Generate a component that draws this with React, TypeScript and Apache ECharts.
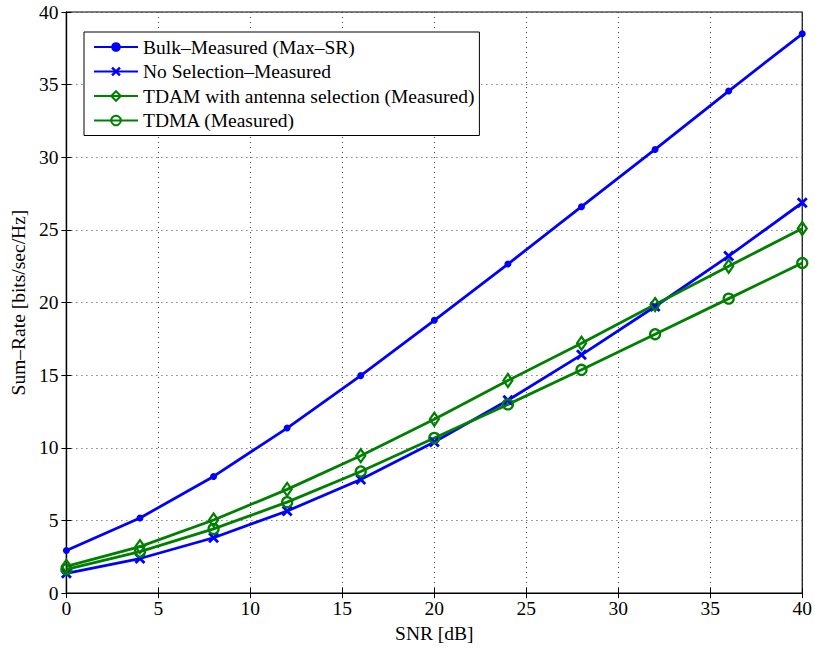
import React, { useEffect, useRef } from "react";
import * as echarts from "echarts";

const snr = [0, 4, 8, 12, 16, 20, 24, 28, 32, 36, 40];
const bulkMeasured = [2.93, 5.17, 8.03, 11.36, 14.97, 18.78, 22.65, 26.6, 30.54, 34.56, 38.5];
const noSelection = [1.36, 2.38, 3.81, 5.65, 7.82, 10.4, 13.27, 16.4, 19.73, 23.2, 26.87];
const tdamSelection = [1.84, 3.2, 5.03, 7.14, 9.46, 11.97, 14.63, 17.2, 19.86, 22.5, 25.1];
const tdmaMeasured = [1.63, 2.86, 4.42, 6.26, 8.37, 10.68, 12.99, 15.37, 17.82, 20.27, 22.72];

const seriesNames = [
  "Bulk\u2013Measured (Max\u2013SR)",
  "No Selection\u2013Measured",
  "TDAM with antenna selection (Measured)",
  "TDMA (Measured)",
];

const BLUE = "#0000ff";
const GREEN = "#008000";
const FONT = "Liberation Serif";
const FS = 19.5;
// Bold "x" marker drawn as a filled outline
const CROSS = "path://M0,1.8L1.8,0L5,3.2L8.2,0L10,1.8L6.8,5L10,8.2L8.2,10L5,6.8L1.8,10L0,8.2L3.2,5Z";

const toPairs = (ys: number[]) => snr.map((x, i) => [x, ys[i]]);

export default function App() {
  const ref = useRef<HTMLDivElement>(null);

  useEffect(() => {
    if (!ref.current) return;
    const chart = echarts.init(ref.current, null, { renderer: "svg" });

    const axisCommon = {
      axisLine: { show: true, lineStyle: { color: "#000", width: 1.2 } },
      axisTick: { show: true, inside: true, length: 5, lineStyle: { color: "#000" } },
    };

    const line = (name: string, data: number[], color: string, symbol: string, size: any, hollow: boolean) => ({
      name,
      type: "line",
      data: toPairs(data),
      symbol,
      symbolSize: size,
      showAllSymbol: true,
      color,
      lineStyle: { color, width: 2.8 },
      itemStyle: hollow
        ? { color: "rgba(255,255,255,0)", borderColor: color, borderWidth: 2.3 }
        : { color, borderColor: color, borderWidth: 0 },
      emphasis: { disabled: true },
      z: 3,
    });

    chart.setOption({
      animation: false,
      backgroundColor: "#fff",
      textStyle: { fontFamily: FONT },
      grid: { left: 62, right: 10, top: 12, bottom: 48, show: true, borderColor: "#000", borderWidth: 1.2 },
      legend: {
        orient: "vertical",
        left: 84,
        top: 32,
        padding: [5, 5, 5, 9],
        itemGap: 4.5,
        itemWidth: 44,
        itemHeight: 12,
        backgroundColor: "#fff",
        borderColor: "#000",
        borderWidth: 1,
        textStyle: { fontFamily: FONT, fontSize: FS, color: "#000" },
        data: seriesNames,
      },
      xAxis: [
        {
          type: "value",
          min: 0,
          max: 40,
          interval: 5,
          name: "SNR [dB]",
          nameLocation: "middle",
          nameGap: 25,
          nameTextStyle: { fontFamily: FONT, fontSize: FS, color: "#000" },
          axisLabel: { fontFamily: FONT, fontSize: FS, color: "#000", margin: 5 },
          splitLine: { show: true, lineStyle: { color: "#444", type: [1, 4], width: 1 } },
          ...axisCommon,
        },
        {
          type: "value",
          position: "top",
          min: 0,
          max: 40,
          interval: 5,
          axisLabel: { show: false },
          splitLine: { show: false },
          ...axisCommon,
        },
      ],
      yAxis: [
        {
          type: "value",
          min: 0,
          max: 40,
          interval: 5,
          name: "Sum\u2013Rate [bits/sec/Hz]",
          nameLocation: "middle",
          nameGap: 35,
          nameTextStyle: { fontFamily: FONT, fontSize: FS, color: "#000" },
          axisLabel: { fontFamily: FONT, fontSize: FS, color: "#000", margin: 8 },
          splitLine: { show: true, lineStyle: { color: "#444", type: [1, 4], width: 1 } },
          ...axisCommon,
        },
        {
          type: "value",
          position: "right",
          min: 0,
          max: 40,
          interval: 5,
          axisLabel: { show: false },
          splitLine: { show: false },
          ...axisCommon,
        },
      ],
      series: [
        line(seriesNames[0], bulkMeasured, BLUE, "circle", 7, false),
        line(seriesNames[1], noSelection, BLUE, CROSS, 11, false),
        line(seriesNames[2], tdamSelection, GREEN, "diamond", [9, 13], true),
        line(seriesNames[3], tdmaMeasured, GREEN, "circle", 10, true),
      ],
    });

    return () => chart.dispose();
  }, []);

  return <div ref={ref} style={{ width: 815, height: 648, position: "absolute", left: 0, top: 0 }} />;
}
